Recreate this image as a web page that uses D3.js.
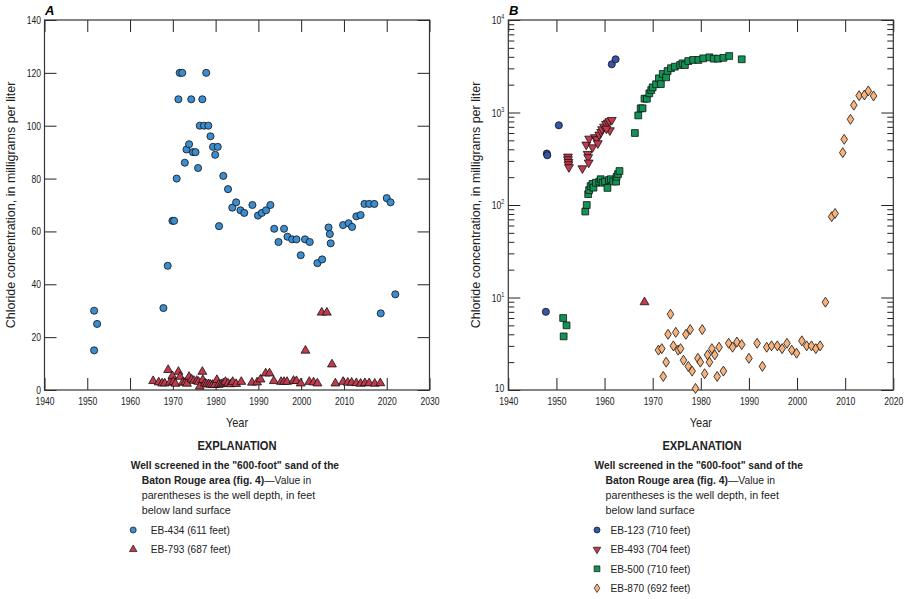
<!DOCTYPE html>
<html><head><meta charset="utf-8">
<script src="https://cdn.jsdelivr.net/npm/d3@7"></script>
<style>
body{margin:0;background:#fff}
svg{font-family:"Liberation Sans",Arial,sans-serif}
</style>
</head><body><svg id="c" width="905" height="599"></svg>
<script>
// ---------- Panel A data ----------
const eb434 = [[1951.6,30],[1951.6,15],[1952.3,25],[1967.8,31],[1968.8,47],[1969.9,64],[1970.3,64],[1970.9,80],[1971.3,110],[1971.6,120],[1972.2,120],[1972.8,86],[1973.2,91],[1973.8,93],[1974.3,110],[1974.7,90],[1975.3,90],[1975.9,84],[1976.3,100],[1976.9,110],[1977.3,100],[1977.8,120],[1978.3,100],[1978.8,96],[1979.4,92],[1979.9,89],[1980.5,92],[1980.8,62],[1981.8,81],[1982.9,76],[1983.9,69],[1984.8,71],[1985.8,68],[1986.7,67],[1988.6,70],[1989.9,66],[1990.8,67],[1991.8,68],[1992.8,70],[1993.7,61],[1994.7,56],[1996.0,61],[1996.8,58],[1997.9,57],[1998.9,57],[1999.9,51],[2000.9,57],[2002.0,56],[2003.8,48],[2004.9,49.4],[2006.4,61.5],[2006.7,59],[2006.9,55.5],[2009.8,62.4],[2011.1,63.1],[2011.9,61.7],[2012.9,65.7],[2013.9,66.2],[2014.8,70.4],[2015.9,70.4],[2017.1,70.4],[2018.6,29],[2020.0,72.6],[2020.9,71],[2022.0,36.2]];
const eb793 = [[1965.4,3.4],[1966.7,2.9],[1967.5,2.5],[1968.1,2.5],[1968.9,7.6],[1969.3,2.8],[1969.9,5.3],[1970.1,3.1],[1970.6,2.4],[1971.3,6.9],[1971.7,5.0],[1972.3,2.8],[1972.9,2.9],[1973.3,2.4],[1973.8,5.0],[1974.4,4.0],[1974.9,3.5],[1975.6,3.5],[1976.0,3.1],[1976.3,1.3],[1976.9,6.9],[1977.0,3.8],[1977.5,2.5],[1977.9,2.2],[1978.4,2.2],[1978.8,2.0],[1979.3,2.0],[1979.8,1.9],[1980.3,3.8],[1980.7,2.0],[1981.3,2.2],[1981.8,2.5],[1982.3,3.1],[1982.9,2.5],[1983.5,2.2],[1984.0,3.1],[1984.8,2.3],[1986.0,3.1],[1988.5,2.8],[1989.7,2.9],[1990.5,4.0],[1991.7,6.3],[1992.6,6.3],[1993.6,3.4],[1995.3,3.1],[1996.0,3.1],[1996.7,3.1],[1998.2,3.5],[1998.9,3.4],[1999.9,2.5],[2001.0,14.9],[2001.9,3.1],[2002.9,2.9],[2003.8,2.5],[2004.8,29.3],[2006.0,29.3],[2007.2,9.7],[2008.0,2.5],[2009.8,3.1],[2010.9,2.8],[2011.8,2.8],[2012.9,2.6],[2013.9,2.4],[2014.9,2.6],[2015.9,2.6],[2017.2,2.4],[2018.5,2.6]];
const xTicksA = [1940,1950,1960,1970,1980,1990,2000,2010,2020,2030];
const yTicksA = [0,20,40,60,80,100,120,140];

// ---------- Panel B data ----------
const eb123 = [[1948.0,360],[1948.1,345],[1950.5,727],[1961.5,3320],[1962.3,3760],[1947.8,7.0]];
const eb493 = [[1952.4,333],[1952.4,312],[1952.5,292],[1952.5,275],[1952.6,256],[1955.4,249],[1956.2,449],[1956.8,521],[1956.5,356],[1956.6,328],[1956.7,287],[1957.5,420],[1958.0,540],[1958.4,513],[1958.6,464],[1958.9,576],[1959.3,615],[1959.5,658],[1959.9,702],[1960.3,751],[1960.7,776],[1961.0,804],[1961.5,830],[1961.1,641],[1960.4,668]];
const eb493Up = [[1968.3,8.9]];
const eb500 = [[1951.4,6.0],[1951.5,3.8],[1952.1,5.0],[1956.0,85],[1956.3,100],[1956.6,131],[1956.8,145],[1957.1,160],[1957.5,169],[1957.7,154],[1958.2,174],[1958.9,179],[1959.2,190],[1959.6,174],[1960.1,179],[1960.6,153],[1960.9,186],[1961.3,190],[1961.8,180],[1962.4,179],[1962.5,202],[1962.8,216],[1963.1,233],[1966.3,600],[1967.0,930],[1967.5,1110],[1967.9,1110],[1968.3,1410],[1968.8,1410],[1969.3,1610],[1969.7,1750],[1970.0,1870],[1970.7,2020],[1971.3,2340],[1971.7,2030],[1972.1,2610],[1972.8,2400],[1973.1,2810],[1973.8,3010],[1974.6,3130],[1975.7,3260],[1976.2,3400],[1976.7,3260],[1977.4,3600],[1978.4,3700],[1979.5,3700],[1980.5,3850],[1981.8,3950],[1982.7,3820],[1983.6,3820],[1984.7,3900],[1985.9,4080],[1988.5,3760]];
const eb870 = [[1971.2,2.7],[1971.9,2.8],[1972.2,1.4],[1972.8,2.0],[1973.2,4.0],[1973.7,6.6],[1974.3,3.0],[1974.8,4.2],[1975.3,2.7],[1975.8,2.8],[1976.4,2.1],[1976.9,4.0],[1977.4,1.8],[1977.8,4.5],[1978.2,1.6],[1978.9,1.04],[1979.4,2.2],[1979.9,2.0],[1980.3,4.5],[1980.8,1.5],[1981.4,2.4],[1981.8,2.0],[1982.3,2.8],[1982.9,2.4],[1983.4,1.4],[1983.8,2.9],[1984.7,1.6],[1985.8,3.2],[1986.6,2.9],[1987.5,3.3],[1988.5,3.1],[1990.0,2.2],[1991.7,3.2],[1992.8,1.8],[1993.7,2.9],[1994.7,3.0],[1995.9,3.0],[1996.9,2.8],[1997.9,3.2],[1998.9,2.7],[1999.9,2.5],[2001.0,3.4],[2002.0,3.0],[2003.0,3.0],[2003.9,2.8],[2004.8,3.0],[2005.9,8.9],[2007.2,74.8],[2007.9,81],[2009.5,368],[2009.8,513],[2011.1,844],[2011.8,1200],[2012.9,1520],[2014.0,1545],[2014.8,1710],[2015.9,1510]];
const xTicksB = [1940,1950,1960,1970,1980,1990,2000,2010,2020];
const yTicksB = [1,10,100,1000,10000];
const yExpB = ["","1","2","3","4"];

const legendA = [["EB-434 (611 feet)","circleA"],["EB-793 (687 feet)","triUp"]];
const legendB = [["EB-123 (710 feet)","circleB"],["EB-493 (704 feet)","triDown"],["EB-500 (710 feet)","square"],["EB-870 (692 feet)","diamond"]];

const styles = {
  circleA:{fill:"#3a8dd0"}, circleB:{fill:"#3556a8"},
  triUp:{fill:"#c23a4c"}, triDown:{fill:"#c23a4c"},
  square:{fill:"#0f9455"}, diamond:{fill:"#f8b27b"}
};
function shapePath(kind, s){
  s = s||1;
  if(kind==="circleA"||kind==="circleB") return d3.symbol(d3.symbolCircle, 40*s*s)();
  if(kind==="triUp"||kind==="triDown") return d3.symbol(d3.symbolTriangle, 34*s*s)();
  if(kind==="square") return d3.symbol(d3.symbolSquare, 46*s*s)();
  if(kind==="diamond"){const w=3.3*s,h=5*s;return `M0,${-h}L${w},0L0,${h}L${-w},0Z`;}
}
function drawPts(g, data, kind, x, y){
  g.selectAll(null).data(data).enter().append("path")
    .attr("d", shapePath(kind))
    .attr("transform", d => `translate(${x(d[0])},${y(d[1])})` + (kind==="triDown"?" rotate(180)":""))
    .attr("fill", styles[kind].fill).attr("stroke","#111").attr("stroke-width",0.8);
}
// narrow text helper: text horizontally compressed
function ntext(parent, x, y, sx, opts){
  const g = parent.append("g").attr("transform",`translate(${x},${y}) scale(${sx},1)`);
  const t = g.append("text").attr("x",0).attr("y",0).attr("fill","#222");
  for(const k in opts) t.attr(k, opts[k]);
  return t;
}

const svg = d3.select("#c");
const FS = 11;
const TSX = 0.78;

function styleAxis(g){
  g.select(".domain").remove();
  g.selectAll(".tick line").attr("stroke","#222").attr("stroke-width",1);
  g.selectAll(".tick text").attr("font-size",FS).attr("fill","#222").attr("font-family",null)
    .attr("transform",`scale(${TSX},1)`);
}

// ================= Panel A =================
(function(){
  const L=44.5,R=429.5,T=20,B=390;
  const x = d3.scaleLinear().domain([1940,2030]).range([L,R]);
  const y = d3.scaleLinear().domain([0,140]).range([B,T]);
  const g = svg.append("g");
  g.append("g").attr("transform",`translate(0,${B})`).call(d3.axisBottom(x).tickValues(xTicksA).tickFormat(d3.format("d")).tickSize(-12).tickSizeOuter(0).tickPadding(7.5)).call(styleAxis);
  g.append("g").attr("transform",`translate(0,${T})`).call(d3.axisTop(x).tickValues(xTicksA).tickFormat("").tickSize(-12).tickSizeOuter(0)).call(styleAxis);
  g.append("g").attr("transform",`translate(${L},0)`).call(d3.axisLeft(y).tickValues(yTicksA).tickSize(-12).tickSizeOuter(0).tickPadding(4.5)).call(styleAxis);
  g.append("g").attr("transform",`translate(${R},0)`).call(d3.axisRight(y).tickValues(yTicksA).tickFormat("").tickSize(-12).tickSizeOuter(0)).call(styleAxis);
  g.append("rect").attr("x",L).attr("y",T).attr("width",R-L).attr("height",B-T).attr("fill","none").attr("stroke","#333").attr("stroke-width",1.2);
  const pg = g.append("g");
  drawPts(pg, eb434, "circleA", x, y);
  drawPts(pg, eb793, "triUp", x, y);
  g.append("text").attr("x",45).attr("y",15).attr("font-size",13).attr("font-weight","bold").attr("font-style","italic").text("A");
  ntext(g,(L+R)/2,427,0.88,{"text-anchor":"middle","font-size":12.5}).text("Year");
  g.append("text").attr("transform",`translate(15,${(T+B)/2}) rotate(-90)`).attr("text-anchor","middle").attr("font-size",12.5).attr("fill","#222").text("Chloride concentration, in milligrams per liter");
})();

// ================= Panel B =================
(function(){
  const L=508.3,R=893.3,T=20,B=390;
  const x = d3.scaleLinear().domain([1940,2020]).range([L,R]);
  const y = d3.scaleLog().domain([1,10000]).range([B,T]);
  const minors = [];
  for(const d of [1,10,100,1000]) for(let m=2;m<=9;m++) minors.push(d*m);
  const g = svg.append("g");
  g.append("g").attr("transform",`translate(0,${B})`).call(d3.axisBottom(x).tickValues(xTicksB).tickFormat(d3.format("d")).tickSize(-12).tickSizeOuter(0).tickPadding(7.5)).call(styleAxis);
  g.append("g").attr("transform",`translate(0,${T})`).call(d3.axisTop(x).tickValues(xTicksB).tickFormat("").tickSize(-12).tickSizeOuter(0)).call(styleAxis);
  g.append("g").attr("transform",`translate(${L},0)`).call(d3.axisLeft(y).tickValues(yTicksB).tickFormat("").tickSize(-12).tickSizeOuter(0)).call(styleAxis);
  g.append("g").attr("transform",`translate(${L},0)`).call(d3.axisLeft(y).tickValues(minors).tickFormat("").tickSize(-6).tickSizeOuter(0)).call(styleAxis);
  g.append("g").attr("transform",`translate(${R},0)`).call(d3.axisRight(y).tickValues(yTicksB).tickFormat("").tickSize(-12).tickSizeOuter(0)).call(styleAxis);
  g.append("g").attr("transform",`translate(${R},0)`).call(d3.axisRight(y).tickValues(minors).tickFormat("").tickSize(-6).tickSizeOuter(0)).call(styleAxis);
  // log tick labels with superscripts
  const lab = g.append("g");
  yTicksB.forEach((v,i)=>{
    const t = ntext(lab, L-4, y(v)+ (i===0?2:4), TSX, {"text-anchor":"end","font-size":FS});
    if(yExpB[i]===""){ t.text("10"); }
    else {
      t.append("tspan").text("10");
      t.append("tspan").attr("font-size",7).attr("dy",-5).text(yExpB[i]);
    }
  });
  g.append("rect").attr("x",L).attr("y",T).attr("width",R-L).attr("height",B-T).attr("fill","none").attr("stroke","#333").attr("stroke-width",1.2);
  const pg = g.append("g");
  drawPts(pg, eb123, "circleB", x, y);
  drawPts(pg, eb493, "triDown", x, y);
  drawPts(pg, eb493Up, "triUp", x, y);
  drawPts(pg, eb500, "square", x, y);
  drawPts(pg, eb870, "diamond", x, y);
  g.append("text").attr("x",509).attr("y",15).attr("font-size",13).attr("font-weight","bold").attr("font-style","italic").text("B");
  ntext(g,(L+R)/2,427,0.88,{"text-anchor":"middle","font-size":12.5}).text("Year");
  g.append("text").attr("transform",`translate(480,${(T+B)/2}) rotate(-90)`).attr("text-anchor","middle").attr("font-size",12.5).attr("fill","#222").text("Chloride concentration, in milligrams per liter");
})();

// ================= Legends =================
function legend(cx, x0, items){
  const g = svg.append("g");
  ntext(g,cx,450,0.86,{"text-anchor":"middle","font-size":13,"font-weight":"bold"}).text("EXPLANATION");
  ntext(g,x0,469,0.89,{"font-size":11.5,"font-weight":"bold"}).text('Well screened in the "600-foot" sand of the');
  const l2 = ntext(g,x0+11,484,0.9,{"font-size":11.5});
  l2.append("tspan").attr("font-weight","bold").text("Baton Rouge area (fig. 4)");
  l2.append("tspan").text("\u2014Value in");
  ntext(g,x0+11,499,0.93,{"font-size":11.5}).text("parentheses is the well depth, in feet");
  ntext(g,x0+11,514,0.93,{"font-size":11.5}).text("below land surface");
  items.forEach((it,i)=>{
    const yy = 530 + i*19.4;
    g.append("path").attr("d",shapePath(it[1],0.85)).attr("transform",`translate(${x0+2.5},${yy})`+(it[1]==="triDown"?" rotate(180)":""))
      .attr("fill",styles[it[1]].fill).attr("stroke","#111").attr("stroke-width",0.7);
    ntext(g,x0+(items.length>2?16:20),yy+4,0.88,{"font-size":11.5}).text(it[0]);
  });
}
legend(237, 130.7, legendA);
legend(702, 594.5, legendB);
</script>
</body></html>
